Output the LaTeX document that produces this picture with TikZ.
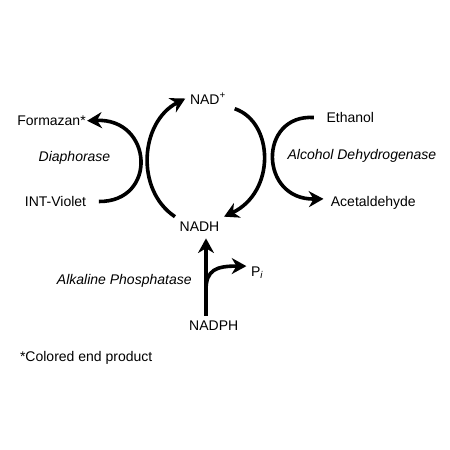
\documentclass[tikz,border=0pt]{standalone}
\usepackage{fontspec}
\setmainfont{Liberation Sans}
\usetikzlibrary{arrows.meta}
\tikzset{flow/.style={-{Stealth[length=11pt,width=12pt]},line width=2.7pt},
  lbl/.style={anchor=base,font=\fontsize{10.5}{12.5}\selectfont},
  enz/.style={lbl,font=\fontsize{10.5}{12.5}\selectfont\itshape}}
\begin{document}
\begin{tikzpicture}[x=0.75pt,y=-0.75pt]
\useasboundingbox (0,0) rectangle (450,450);
\node[lbl] (nad) at (208,104) {NAD\textsuperscript{+}};
\node[lbl] (nadh) at (199.5,231) {NADH};
\node[lbl] (formazan) at (51.5,125.5) {Formazan*};
\node[enz] (dia) at (74.5,161.5) {Diaphorase};
\node[lbl] (intviolet) at (55.5,206.5) {INT-Violet};
\node[lbl] (ethanol) at (350.3,122.5) {Ethanol};
\node[enz] (adh) at (361.9,159) {Alcohol Dehydrogenase};
\node[lbl] (acetaldehyde) at (373.3,206.5) {Acetaldehyde};
\node[enz] (alkphos) at (124.3,284) {Alkaline Phosphatase};
\node[lbl] (pi) at (257.3,276.5) {P\textsubscript{\textit{i}}};
\node[lbl] (nadph) at (213.7,330) {NADPH};
\node[lbl] (note) at (86.2,361.5) {*Colored end product};
\coordinate (stem) at (206,290);
\draw[flow] (nadh.north west) .. controls (135,190) and (140,122) .. (nad.west);
\draw[flow] ([xshift=3pt]nad.south east) .. controls (274,122) and (276,192) .. (nadh.north east);
\draw[flow] ([xshift=6pt]intviolet.east) .. controls (158,202) and (153,118) .. ([xshift=-2.5pt]formazan.east);
\draw[flow] ([xshift=-6pt]ethanol.west) .. controls (258,114) and (259,200) .. ([xshift=-2pt,yshift=3pt]acetaldehyde.west);
\draw[flow] (nadph.north -| stem) -- ([yshift=-2pt]nadh.south -| stem);
\draw[flow] (stem) .. controls (206,270) and (216,266) .. ([yshift=5pt]pi.west);
\end{tikzpicture}
\end{document}
